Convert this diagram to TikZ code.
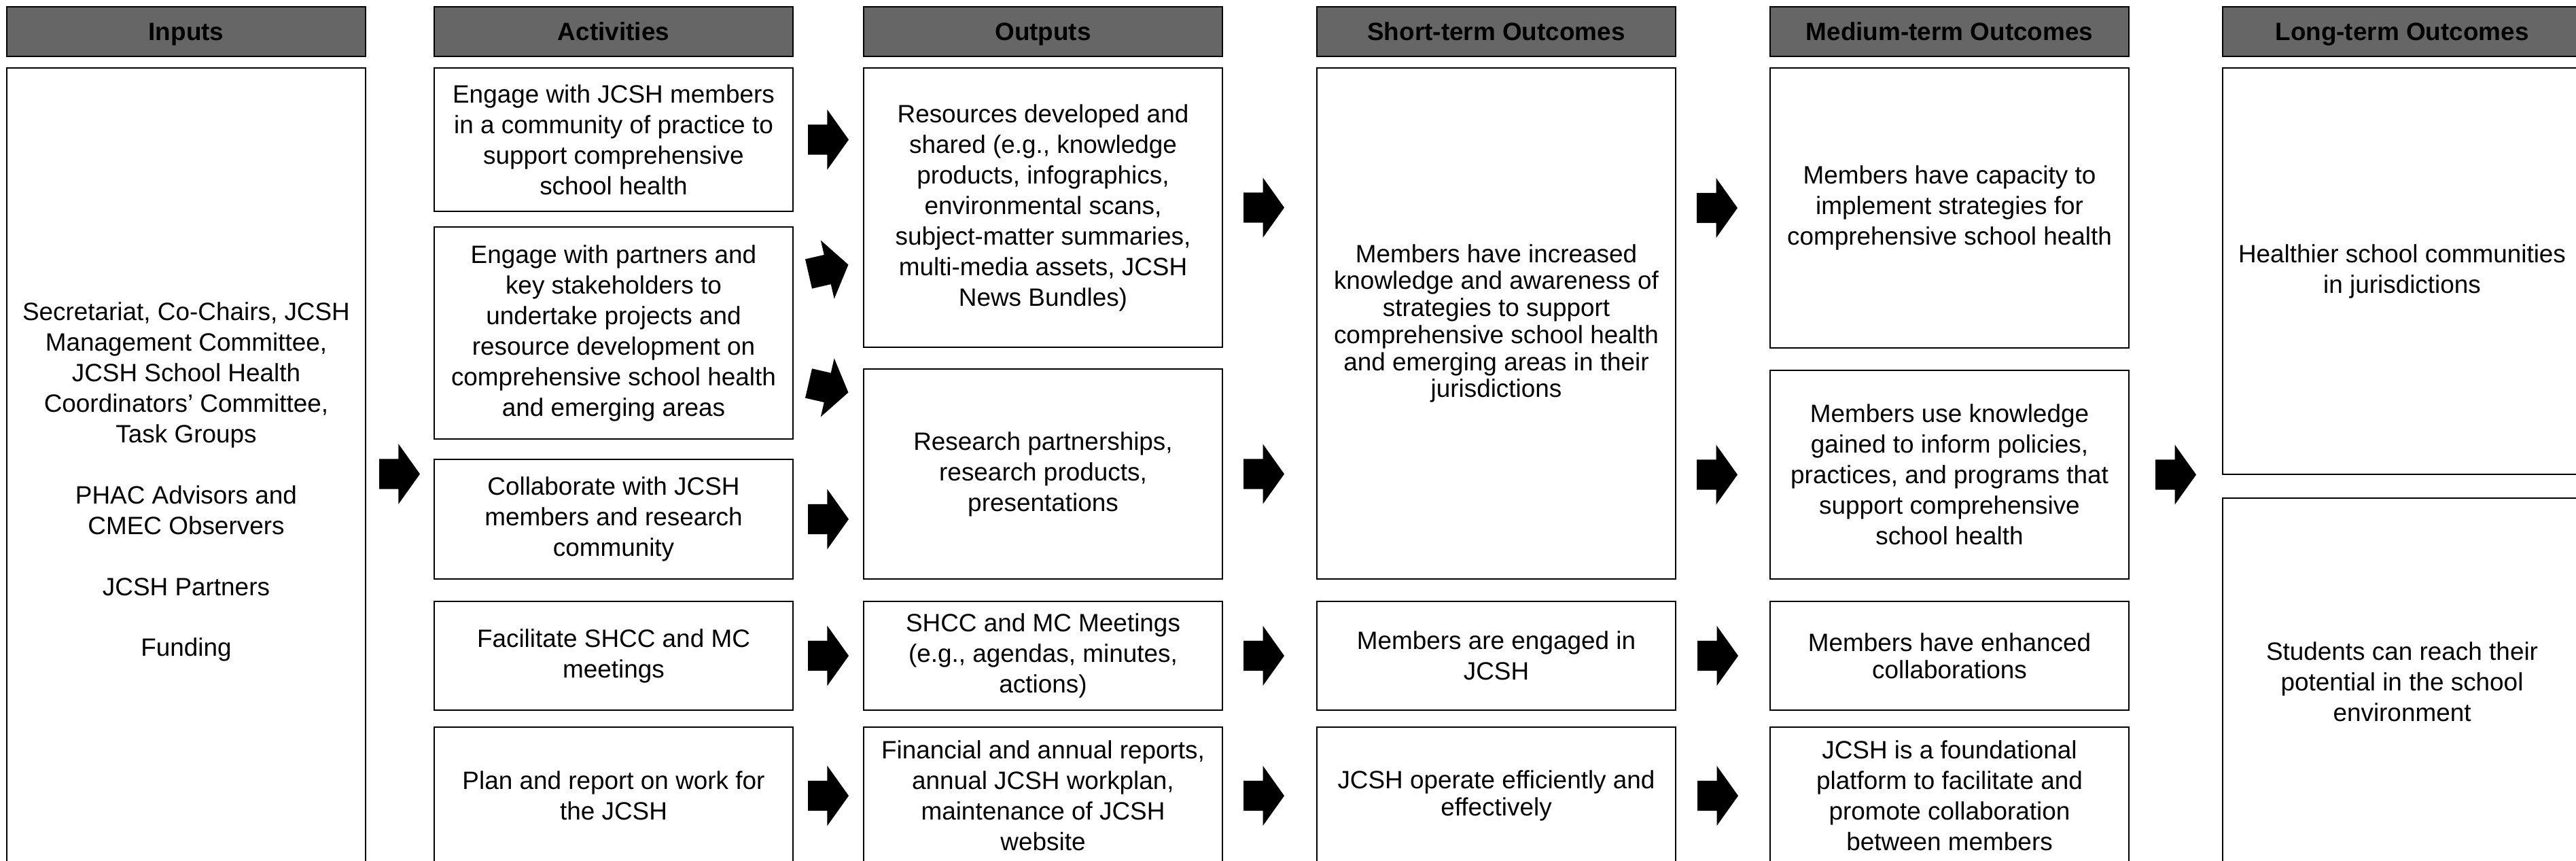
\documentclass[tikz,border=0pt]{standalone}
\usepackage{fontspec}
\setmainfont{Liberation Sans}
\usetikzlibrary{positioning,shapes.arrows,calc}
\definecolor{headgray}{RGB}{102,102,102}

\begin{document}
\begin{tikzpicture}[
    node distance=0.2cm,
    every node/.style={font=\fontsize{10.5}{12.8}\selectfont},
    head/.style={draw, line width=0.7pt, fill=headgray, minimum width=5.28cm, minimum height=0.73cm, inner sep=0pt, outer sep=0pt, text height=0.72em, text depth=0pt, font=\fontsize{10.5}{12.8}\selectfont\bfseries},
    box/.style={draw, line width=0.7pt, minimum width=5.28cm, align=center, inner sep=2pt, outer sep=0pt},
    tightbox/.style={box, font=\fontsize{10.5}{11.3}\selectfont},
    blockarrow/.style={single arrow, fill=black, minimum height=0.6cm, minimum width=0.87cm, single arrow head extend=0.22cm, single arrow tip angle=109, inner xsep=0pt, inner ysep=0.215cm, outer sep=0pt}
]

\useasboundingbox (0,0) rectangle (37.91,-12.66);
\clip (0,0) rectangle (37.91,-12.66);

% 标题
\node[head, anchor=north west] (hin) at (0.10,-0.10) {Inputs};
\node[head, right=1.01cm of hin] (hact) {Activities};
\node[head, right=1.04cm of hact] (hout) {Outputs};
\node[head, right=1.39cm of hout] (hshort) {Short-term Outcomes};
\node[head, right=1.39cm of hshort] (hmed) {Medium-term Outcomes};
\node[head, right=1.38cm of hmed] (hlong) {Long-term Outcomes};

% 输入
\node[box, below=0.17cm of hin, minimum height=12.18cm] (inputs) {Secretariat, Co-Chairs, JCSH\\ Management Committee,\\ JCSH School Health\\ Coordinators’ Committee,\\ Task Groups\\[12.8pt] PHAC Advisors and\\ CMEC Observers\\[12.8pt] JCSH Partners\\[12.8pt] Funding};

% 活动
\node[box, below=0.17cm of hact, minimum height=2.11cm] (act1) {Engage with JCSH members\\ in a community of practice to\\ support comprehensive\\ school health};
\node[box, below=0.23cm of act1, minimum height=3.12cm] (act2) {Engage with partners and\\ key stakeholders to\\ undertake projects and\\ resource development on\\ comprehensive school health\\ and emerging areas};
\node[box, below=0.30cm of act2, minimum height=1.76cm] (act3) {Collaborate with JCSH\\ members and research\\ community};
\node[box, below=0.33cm of act3, minimum height=1.60cm] (act4) {Facilitate SHCC and MC\\ meetings};
\node[box, below=0.25cm of act4, minimum height=2.02cm] (act5) {Plan and report on work for\\ the JCSH};

% 产出
\node[box, below=0.17cm of hout, minimum height=4.11cm] (out1) {Resources developed and\\ shared (e.g., knowledge\\ products, infographics,\\ environmental scans,\\ subject-matter summaries,\\ multi-media assets, JCSH\\ News Bundles)};
\node[box, below=0.32cm of out1, minimum height=3.09cm] (out2) {Research partnerships,\\ research products,\\ presentations};
\node[box, below=0.33cm of out2, minimum height=1.60cm] (out3) {SHCC and MC Meetings\\ (e.g., agendas, minutes,\\ actions)};
\node[box, below=0.25cm of out3, minimum height=2.02cm] (out4) {Financial and annual reports,\\ annual JCSH workplan,\\ maintenance of JCSH\\ website};

% 短期成果
\node[tightbox, below=0.17cm of hshort, minimum height=7.52cm] (short1) {Members have increased\\ knowledge and awareness of\\ strategies to support\\ comprehensive school health\\ and emerging areas in their\\ jurisdictions};
\node[box, below=0.33cm of short1, minimum height=1.60cm] (short2) {Members are engaged in\\ JCSH};
\node[tightbox, below=0.25cm of short2, minimum height=2.02cm] (short3) {JCSH operate efficiently and\\ effectively};

% 中期成果
\node[box, below=0.17cm of hmed, minimum height=4.12cm] (med1) {Members have capacity to\\ implement strategies for\\ comprehensive school health};
\node[box, below=0.33cm of med1, minimum height=3.07cm] (med2) {Members use knowledge\\ gained to inform policies,\\ practices, and programs that\\ support comprehensive\\ school health};
\node[tightbox, below=0.33cm of med2, minimum height=1.60cm] (med3) {Members have enhanced\\ collaborations};
\node[box, below=0.25cm of med3, minimum height=2.02cm] (med4) {JCSH is a foundational\\ platform to facilitate and\\ promote collaboration\\ between members};

% 长期成果
\node[box, below=0.17cm of hlong, minimum height=5.98cm] (long1) {Healthier school communities\\ in jurisdictions};
\node[box, below=0.35cm of long1, minimum height=5.40cm] (long2) {Students can reach their\\ potential in the school\\ environment};

% 箭头
\node[blockarrow, anchor=west] (a0) at ($(inputs.east |- out2.east)+(0.2,0)$) {};
\node[blockarrow, right=0.22cm of act1] (a1) {};
\node[blockarrow, rotate=13, anchor=tail] (a2) at ($(act2.north east)+(0.23,-0.69)$) {};
\node[blockarrow, rotate=-13, anchor=tail] (a3) at ($(act2.south east)+(0.23,0.82)$) {};
\node[blockarrow, right=0.22cm of act3] (a4) {};
\node[blockarrow, right=0.22cm of act4] (a5) {};
\node[blockarrow, right=0.22cm of act5] (a6) {};

\node[blockarrow, right=0.31cm of out1] (b1) {};
\node[blockarrow, right=0.31cm of out2] (b2) {};
\node[blockarrow, right=0.31cm of out3] (b3) {};
\node[blockarrow, right=0.31cm of out4] (b4) {};

\node[blockarrow, left=0.48cm of med1] (c1) {};
\node[blockarrow, left=0.48cm of med2] (c2) {};
\node[blockarrow, right=0.32cm of short2] (c3) {};
\node[blockarrow, right=0.32cm of short3] (c4) {};

\node[blockarrow, right=0.39cm of med2] (d1) {};

\end{tikzpicture}
\end{document}
